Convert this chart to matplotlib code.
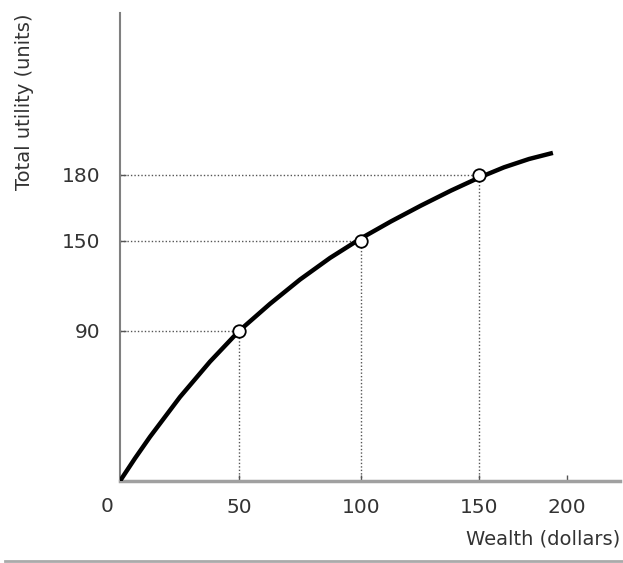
import matplotlib
matplotlib.use('Agg')
import matplotlib.pyplot as plt
import numpy as np
from matplotlib.lines import Line2D

# Curve (wealth in dollars, total utility in units)
wealth = [0, 6.3, 12.6, 25.2, 37.8, 50, 62.7, 75.0, 87.3, 100, 112.7,
          125.4, 138.1, 150, 164.2, 178.4, 192.0]
utility = [0, 13.6, 26.5, 50.4, 71.6, 90, 108.1, 124.3, 138.7, 151.2,
           158.9, 166.1, 172.9, 178.8, 183.5, 187.3, 190.1]

# Marked points
point_wealth = [50, 100, 150]
point_utility = [90, 150, 180]

x_ticks = [50, 100, 150, 200]
y_ticks = [90, 150, 180]

# the drawing is a sketch: tick spacing is not uniform, so the axes use
# piecewise scales (value -> pixels from the origin)
x_scale_values = [0, 50, 100, 150, 200, 230]
x_scale_pixels = [0, 119, 241, 359, 447, 500]
y_scale_values = [0, 90, 150, 180, 254]
y_scale_pixels = [0, 150, 240, 306, 468]


def x_forward(v):
    return np.interp(v, x_scale_values, x_scale_pixels)


def x_inverse(v):
    return np.interp(v, x_scale_pixels, x_scale_values)


def y_forward(v):
    return np.interp(v, y_scale_values, y_scale_pixels)


def y_inverse(v):
    return np.interp(v, y_scale_pixels, y_scale_values)


fig = plt.figure(figsize=(6.23, 5.63), dpi=100)
ax = fig.add_axes([120 / 623, 82 / 563, 500 / 623, 468 / 563])
ax.set_xscale('function', functions=(x_forward, x_inverse))
ax.set_yscale('function', functions=(y_forward, y_inverse))
ax.set_xlim(0, 230)
ax.set_ylim(0, 254)

# dotted guides
for xv, yv in zip(point_wealth, point_utility):
    ax.plot([0, xv], [yv, yv], ls=(0, (1, 1.5)), color='#555555', lw=1)
    ax.plot([xv, xv], [0, yv], ls=(0, (1, 1.5)), color='#555555', lw=1)

ax.plot(wealth, utility, color='black', lw=3.2, solid_capstyle='butt',
        solid_joinstyle='round', zorder=3)
ax.plot(point_wealth, point_utility, 'o', ms=9, mfc='white', mec='black',
        mew=1.3, zorder=4)

for side in ['top', 'right']:
    ax.spines[side].set_visible(False)
ax.spines['left'].set_color('#808080')
ax.spines['left'].set_linewidth(1.5)
ax.spines['bottom'].set_color('#a0a0a0')
ax.spines['bottom'].set_linewidth(2.5)

ax.set_xticks(x_ticks)
ax.set_yticks(y_ticks)
ax.xaxis.set_minor_locator(plt.NullLocator())
ax.yaxis.set_minor_locator(plt.NullLocator())
ax.set_xticklabels([str(t) for t in x_ticks])
ax.set_yticklabels([str(t) for t in y_ticks])
ax.tick_params(axis='x', direction='in', length=4, width=1, color='#555555',
               labelsize=14.5, pad=12, labelcolor='#333333')
ax.tick_params(axis='y', direction='in', length=4, width=1, color='#555555',
               labelsize=14.5, pad=14, labelcolor='#333333')
ax.annotate('0', xy=(0, 0), xytext=(-13, -16), textcoords='offset pixels',
            ha='center', va='top', fontsize=14.5, color='#333333')

ax.set_xlabel('Wealth (dollars)', loc='right', fontsize=14, color='#333333',
              labelpad=9)
ax.set_ylabel('Total utility (units)', loc='top', fontsize=14,
              color='#333333', labelpad=20)

# rule under the chart
fig.add_artist(Line2D([5 / 623, 1], [2 / 563, 2 / 563], color='#aaaaaa', lw=2))

fig.savefig('out.png', dpi=100)
